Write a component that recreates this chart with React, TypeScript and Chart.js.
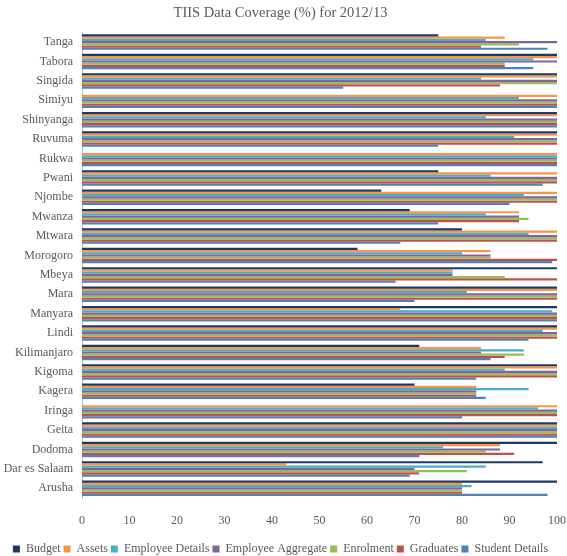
import React, { useEffect, useRef } from "react";
import { Chart, registerables } from "chart.js";

Chart.register(...registerables);

const regions = [
  "Tanga", "Tabora", "Singida", "Simiyu", "Shinyanga", "Ruvuma", "Rukwa", "Pwani",
  "Njombe", "Mwanza", "Mtwara", "Morogoro", "Mbeya", "Mara", "Manyara", "Lindi",
  "Kilimanjaro", "Kigoma", "Kagera", "Iringa", "Geita", "Dodoma", "Dar es Salaam", "Arusha",
];

const budget = [75, 100, 100, null, 100, 100, null, 75, 63, 69, 80, 58, 100, 100, 100, 100, 71, 100, 70, null, 100, 100, 97, 100];
const assets = [89, 100, 100, 100, 100, 100, 100, 100, 100, 92, 100, 86, 78, 100, 67, 100, 84, 100, 83, 100, 100, 88, 43, 80];
const employeeDetails = [85, 95, 84, 92, 85, 91, 100, 86, 93, 85, 94, 80, 78, 81, 99, 97, 93, 89, 94, 96, 100, 76, 85, 82];
const employeeAggregate = [100, 100, 100, 100, 100, 100, 100, 100, 100, 92, 100, 86, 78, 100, 100, 100, 84, 100, 83, 100, 100, 88, 70, 80];
const enrolment = [92, 89, 100, 100, 100, 100, 100, 100, 100, 94, 100, 86, 89, 100, 100, 100, 93, 100, 83, 100, 100, 85, 81, 80];
const graduates = [84, 89, 88, 100, 100, 100, 100, 100, 100, 92, 100, 100, 100, 100, 100, 100, 89, 100, 83, 100, 100, 91, 71, 80];
const studentDetails = [98, 95, 55, 100, 100, 75, 100, 97, 90, 75, 67, 99, 66, 70, 100, 94, 86, 83, 85, 80, 100, 71, 69, 98];

const seriesNames = ["Budget", "Assets", "Employee Details", "Employee Aggregate", "Enrolment", "Graduates", "Student Details"];
const seriesColors = ["#1F3864", "#F79646", "#4BACC6", "#8064A2", "#9BBB59", "#C0504D", "#4F81BD"];
const seriesValues = [budget, assets, employeeDetails, employeeAggregate, enrolment, graduates, studentDetails];

const xTicks = [0, 10, 20, 30, 40, 50, 60, 70, 80, 90, 100];

const FONT = "'Liberation Serif', 'Times New Roman', serif";
const TEXT = "#595959";

export default function App() {
  const ref = useRef<HTMLCanvasElement | null>(null);

  useEffect(() => {
    if (!ref.current) return;
    const chart = new Chart(ref.current, {
      type: "bar",
      data: {
        labels: regions,
        datasets: seriesNames.map((name, i) => ({
          label: name,
          data: seriesValues[i],
          backgroundColor: seriesColors[i],
          borderWidth: 0,
          categoryPercentage: 0.8,
          barPercentage: 1.0,
        })),
      },
      options: {
        indexAxis: "y",
        animation: false,
        responsive: false,
        maintainAspectRatio: false,
        layout: { padding: { left: 4, right: 10, top: 0, bottom: 0 } },
        plugins: {
          title: {
            display: true,
            text: "TIIS Data Coverage (%) for 2012/13",
            color: TEXT,
            font: { family: FONT, size: 14.5, weight: "normal" },
            padding: { top: 4, bottom: 11 },
          },
          legend: {
            position: "bottom",
            labels: {
              color: TEXT,
              font: { family: FONT, size: 12 },
              boxWidth: 7,
              boxHeight: 7,
              padding: 3,
            },
          },
          tooltip: { enabled: false },
        },
        scales: {
          x: {
            min: 0,
            max: 100,
            afterBuildTicks: (axis: any) => {
              axis.ticks = xTicks.map((v) => ({ value: v }));
            },
            afterFit: (axis: any) => {
              axis.height = 42;
              axis.paddingLeft = 0;
              axis.paddingRight = 0;
            },
            grid: { display: false, drawTicks: false },
            border: { display: false },
            ticks: {
              color: TEXT,
              font: { family: FONT, size: 12 },
              padding: 16,
            },
          },
          y: {
            afterFit: (axis: any) => {
              axis.width = 78;
            },
            grid: { display: false, drawTicks: false },
            border: { display: true, color: "#BFBFBF" },
            ticks: {
              color: TEXT,
              font: { family: FONT, size: 12 },
              padding: 9,
              autoSkip: false,
            },
          },
        },
      },
    });
    return () => chart.destroy();
  }, []);

  return (
    <div style={{ position: "fixed", left: 0, top: 0, width: 567, height: 565, background: "#fff" }}>
      <canvas ref={ref} width={567} height={565} style={{ width: 567, height: 565 }} />
    </div>
  );
}
